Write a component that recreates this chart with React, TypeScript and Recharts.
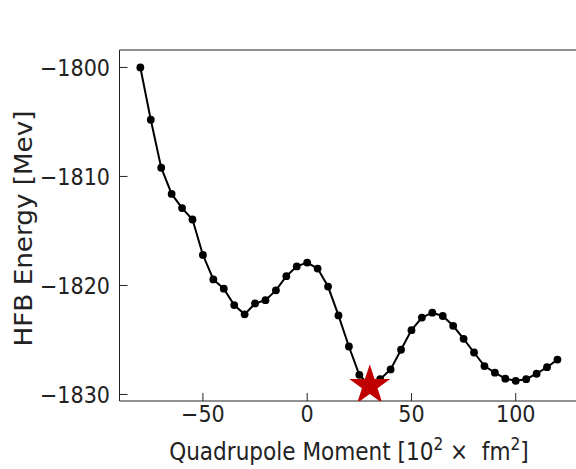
import React from 'react';
import { ComposedChart, Line, Scatter, XAxis, YAxis } from 'recharts';

// Quadrupole moment grid [10^2 fm^2] and HFB energies [MeV]
const moments = [
  -80, -75, -70, -65, -60, -55, -50, -45, -40, -35, -30, -25, -20, -15, -10, -5, 0,
  5, 10, 15, 20, 25, 30, 35, 40, 45, 50, 55, 60, 65, 70, 75, 80, 85, 90, 95, 100,
  105, 110, 115, 120,
];
const energies = [
  -1800.0, -1804.8, -1809.2, -1811.6, -1812.9, -1813.95, -1817.2, -1819.45, -1820.3,
  -1821.8, -1822.65, -1821.65, -1821.35, -1820.45, -1819.15, -1818.25, -1817.9,
  -1818.45, -1820.1, -1822.75, -1825.6, -1828.2, -1829.2, -1828.6, -1827.7, -1825.9,
  -1824.1, -1822.95, -1822.5, -1822.8, -1823.7, -1824.9, -1826.15, -1827.4, -1828.0,
  -1828.55, -1828.75, -1828.6, -1828.1, -1827.5, -1826.8,
];
// ground-state minimum, marked with a star
const minimum = [{ q: 30, e: -1829.2 }];

const xTicks = [-50, 0, 50, 100];
const yTicks = [-1830, -1820, -1810, -1800];

const FONT = "'DejaVu Sans Condensed', 'DejaVu Sans', sans-serif";
const INK = '#222';
const STAR_RED = '#c00000';

const curve = moments.map((q, i) => ({ q, e: energies[i] }));

const fmt = (v: number) => (v < 0 ? `\u2212${Math.abs(v)}` : `${v}`);

const tickStyle = { fontSize: 23, fontFamily: FONT, fontStretch: 'condensed', fill: INK };

function StarShape(props: any) {
  const { cx, cy } = props;
  const R = 21.5;
  const r = R * 0.382;
  const pts: string[] = [];
  for (let i = 0; i < 10; i++) {
    const rad = i % 2 === 0 ? R : r;
    const a = -Math.PI / 2 + (i * Math.PI) / 5;
    pts.push(`${cx + rad * Math.cos(a)},${cy + rad * Math.sin(a)}`);
  }
  return <polygon points={pts.join(' ')} fill={STAR_RED} stroke="none" />;
}

function XLabel(props: any) {
  const { x, y, width } = props.viewBox;
  return (
    <text
      x={x + width / 2}
      y={y + 59}
      textAnchor="middle"
      fontSize={24}
      fontFamily={FONT}
      fontStretch="condensed"
      fill={INK}
      style={{ whiteSpace: 'pre' }}
    >
      Quadrupole Moment [10
      <tspan dy={-10} fontSize={17}>2</tspan>
      <tspan dy={10}>{' \u00d7  fm'}</tspan>
      <tspan dy={-10} fontSize={17}>2</tspan>
      <tspan dy={10}>]</tspan>
    </text>
  );
}

function YLabel(props: any) {
  const { y, height } = props.viewBox;
  const cx = 32;
  const cy = y + height / 2 + 3;
  return (
    <text
      x={cx}
      y={cy}
      transform={`rotate(-90, ${cx}, ${cy})`}
      textAnchor="middle"
      fontSize={25}
      fontFamily="'DejaVu Sans', sans-serif"
      textLength={236}
      lengthAdjust="spacingAndGlyphs"
      fill={INK}
    >
      HFB Energy [Mev]
    </text>
  );
}

export default function App() {
  return (
    <div style={{ position: 'absolute', left: 0, top: 0, width: 576, height: 469, overflow: 'hidden', background: '#fff' }}>
      <ComposedChart
        width={600}
        height={469}
        data={curve}
        margin={{ top: 49, right: 20.7, bottom: 0, left: 0 }}
      >
        <XAxis
          xAxisId="bottom"
          dataKey="q"
          type="number"
          domain={[-90, 130]}
          ticks={xTicks}
          allowDataOverflow
          height={68}
          stroke={INK}
          tickSize={-8}
          tickMargin={13}
          tickFormatter={fmt}
          tick={tickStyle}
          label={(p: any) => <XLabel {...p} />}
        />
        <XAxis
          xAxisId="top"
          orientation="top"
          dataKey="q"
          type="number"
          domain={[-90, 130]}
          ticks={xTicks}
          allowDataOverflow
          height={1}
          stroke={INK}
          tickSize={-8}
          tick={false}
        />
        <YAxis
          yAxisId="left"
          type="number"
          domain={[-1830.6, -1798.4]}
          ticks={yTicks}
          allowDataOverflow
          width={119.5}
          stroke={INK}
          tickSize={-8}
          tickMargin={17.5}
          tickFormatter={fmt}
          tick={tickStyle}
          label={(p: any) => <YLabel {...p} />}
        />
        <YAxis
          yAxisId="right"
          orientation="right"
          type="number"
          domain={[-1830.6, -1798.4]}
          ticks={yTicks}
          allowDataOverflow
          width={1}
          stroke={INK}
          tickSize={-8}
          tick={false}
        />
        <Line
          xAxisId="bottom"
          yAxisId="left"
          dataKey="e"
          type="linear"
          stroke="#000"
          strokeWidth={2}
          dot={{ r: 3.9, fill: '#000', stroke: 'none' }}
          activeDot={false}
          isAnimationActive={false}
        />
        <Scatter
          xAxisId="bottom"
          yAxisId="left"
          data={minimum}
          dataKey="e"
          shape={(p: any) => <StarShape {...p} />}
          isAnimationActive={false}
        />
      </ComposedChart>
    </div>
  );
}
